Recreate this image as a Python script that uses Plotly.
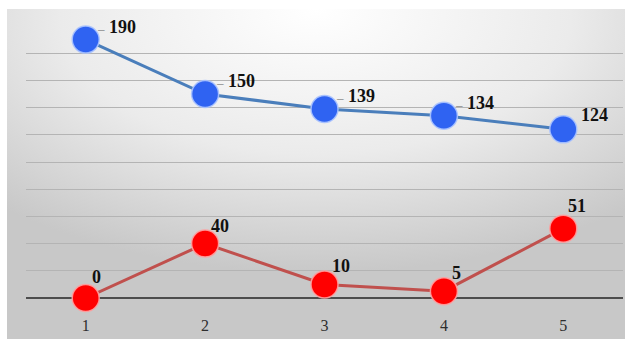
import base64
import plotly.graph_objects as go

# Data
categories = [1, 2, 3, 4, 5]
upper_values = [190, 150, 139, 134, 124]
lower_values = [0, 40, 10, 5, 51]
y_max = 200
grid_step = 20

W, H = 629, 339
L, R, T, B = 26, 6, 26, 41
plot_w = W - L - R
plot_h = H - T - B

# Soft grey radial background for the chart area
svg = """<svg xmlns='http://www.w3.org/2000/svg' width='618' height='330' preserveAspectRatio='none'>
<defs><radialGradient id='g' cx='0.5' cy='0.05' r='0.75' fx='0.5' fy='0.0'>
<stop offset='0' stop-color='#ffffff'/>
<stop offset='0.55' stop-color='#ebebeb'/>
<stop offset='1' stop-color='#c8c8c8'/>
</radialGradient></defs>
<rect width='618' height='330' fill='url(#g)'/></svg>"""
bg_src = "data:image/svg+xml;base64," + base64.b64encode(svg.encode()).decode()

serif = "Liberation Serif, Times New Roman, serif"
label_font = dict(family=serif, size=18, color="#111111")

fig = go.Figure()

fig.add_trace(go.Scatter(
    x=categories, y=upper_values, mode="lines+markers",
    line=dict(color="#4a7ebb", width=3),
    marker=dict(size=27, color="#2f63f2", line=dict(color="rgba(170,195,255,0.9)", width=1.5)),
    cliponaxis=False, hoverinfo="skip", showlegend=False,
))
fig.add_trace(go.Scatter(
    x=categories, y=lower_values, mode="lines+markers",
    line=dict(color="#c0504d", width=3),
    marker=dict(size=27, color="#ff0000", line=dict(color="rgba(255,160,160,0.9)", width=1.5)),
    cliponaxis=False, hoverinfo="skip", showlegend=False,
))

# Upper-series labels: a small grey leader dash before the value
upper_leader = [True, True, True, True, False]
leader = "<span style='font-size:13px;color:#7a7a7a'>\u2013</span>\u00a0"

annotations = []
for x, v, lead in zip(categories, upper_values, upper_leader):
    if lead:
        annotations.append(dict(
            x=x, y=v, xref="x", yref="y", text=f"{leader}<b>{v}</b>", showarrow=False,
            xanchor="left", xshift=9, yshift=13, font=label_font,
        ))
    else:
        annotations.append(dict(
            x=x, y=v, xref="x", yref="y", text=f"<b>{v}</b>", showarrow=False,
            xshift=31, yshift=14, font=label_font,
        ))

# Lower-series labels (offsets in pixels from the marker centre)
lower_off = [(11, -21), (15, -18), (16, -18), (13, -18), (14, -23)]
for x, v, (dx, dy) in zip(categories, lower_values, lower_off):
    annotations.append(dict(
        x=x, y=v, xref="x", yref="y", text=f"<b>{v}</b>", showarrow=False,
        xshift=dx, yshift=-dy, font=label_font,
    ))

fig.update_layout(
    width=W, height=H,
    margin=dict(l=L, r=R, t=T, b=B, pad=0),
    paper_bgcolor="#ffffff",
    plot_bgcolor="rgba(0,0,0,0)",
    annotations=annotations,
    images=[dict(
        source=bg_src, xref="paper", yref="paper",
        x=(7 - L) / plot_w, y=1 + (T - 9) / plot_h,
        sizex=618 / plot_w, sizey=330 / plot_h,
        xanchor="left", yanchor="top", sizing="stretch", layer="below",
    )],
    xaxis=dict(
        range=[0.5, 5.5], tickvals=categories, ticktext=[str(c) for c in categories],
        showgrid=False, zeroline=False, showline=False, ticks="",
        tickfont=dict(family=serif, size=16, color="#2e2e2e"), ticklabelstandoff=16,
        fixedrange=True,
    ),
    yaxis=dict(
        range=[0, y_max], dtick=grid_step, showticklabels=False,
        showgrid=True, gridcolor="#b4b4b4", gridwidth=1,
        zeroline=True, zerolinecolor="#4d4d4d", zerolinewidth=2,
        fixedrange=True,
    ),
)

fig.write_html("out.html")
